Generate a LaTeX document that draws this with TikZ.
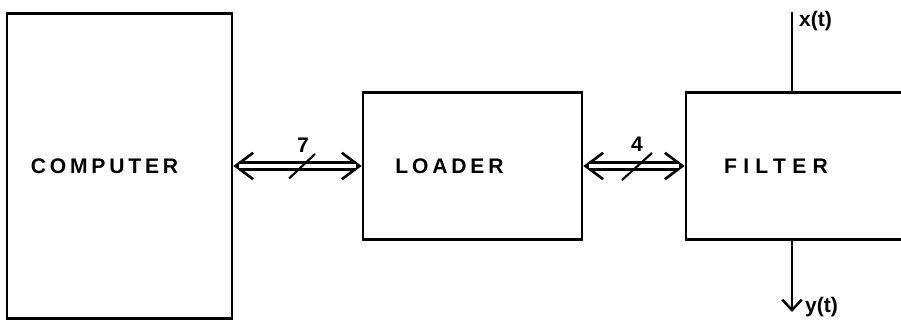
\documentclass[tikz,border=0pt]{standalone}
\usepackage{fontspec}
\setsansfont{Liberation Sans}
\newfontfamily\spacedsf[LetterSpace=18]{Liberation Sans}
\newfontfamily\widesf[LetterSpace=30]{Liberation Sans}
\usepackage{tikz}
\usetikzlibrary{arrows.meta, positioning, calc}

\begin{document}
\begin{tikzpicture}[
  block/.style={
    rectangle, draw, line width=1.5pt, align=center,
    font=\spacedsf\bfseries\large,
  },
  % open heads first, the hollow shaft goes over them
  bushead/.style={
    {Straight Barb[length=10pt,width=15pt,line width=1.5pt]}-{Straight Barb[length=10pt,width=15pt,line width=1.5pt]},
    line width=1.5pt,
  },
  bus/.style={
    double, double distance=2.8pt, line width=1.4pt,
    shorten <=3.5pt, shorten >=3.5pt,
  },
  sig/.style={line width=1.4pt},
  siglabel/.style={font=\sffamily\bfseries\large, inner sep=1pt},
]
  \useasboundingbox (0,0) rectangle (18.02,6.54);
  \clip (0,0) rectangle (18.02,6.54);

  \node[block, minimum width=4.5cm, minimum height=6.1cm] (computer) at (2.39,3.22)
    {\hspace*{-0.6cm}COMPUTER};
  \node[block, minimum width=4.38cm, minimum height=2.94cm] (loader) at (9.45,3.22)
    {\hspace*{-0.92cm}LOADER};
  \node[block, minimum width=4.8cm, minimum height=2.94cm] (filter) at (16.12,3.22)
    {\hspace*{-1.2cm}\widesf FILTER};

  % bus connections with width marks
  \draw[bushead] (computer.east) -- (loader.west);
  \draw[bus] (computer.east) -- (loader.west) coordinate[pos=0.5] (b1);
  \draw[sig, line width=1.2pt] ($(b1)+(-0.17,-0.25)$) -- ($(b1)+(0.35,0.24)$);
  \node[siglabel] (w1) at ($(b1)+(0.11,0.42)$) {7};

  \draw[bushead] (loader.east) -- (filter.west);
  \draw[bus] (loader.east) -- (filter.west) coordinate[pos=0.5] (b2);
  \draw[sig, line width=1.2pt] ($(b2)+(-0.24,-0.28)$) -- ($(b2)+(0.36,0.26)$);
  \node[siglabel] (w2) at ($(b2)+(0.06,0.44)$) {4};

  % input and output of the filter
  \coordinate (xin) at (15.84,6.3);
  \coordinate (yout) at (15.84,0.3);
  \draw[sig] (xin) -- (xin |- filter.north);
  \node[siglabel, anchor=north west] (xlab) at ($(xin)+(0.1,0.06)$) {x(t)};
  \draw[sig, -{Straight Barb[length=6pt,width=11pt,line width=1.4pt]}]
    (yout |- filter.south) -- (yout);
  \node[siglabel, anchor=south west] (ylab) at ($(yout)+(0.22,-0.14)$) {y(t)};
\end{tikzpicture}
\end{document}
